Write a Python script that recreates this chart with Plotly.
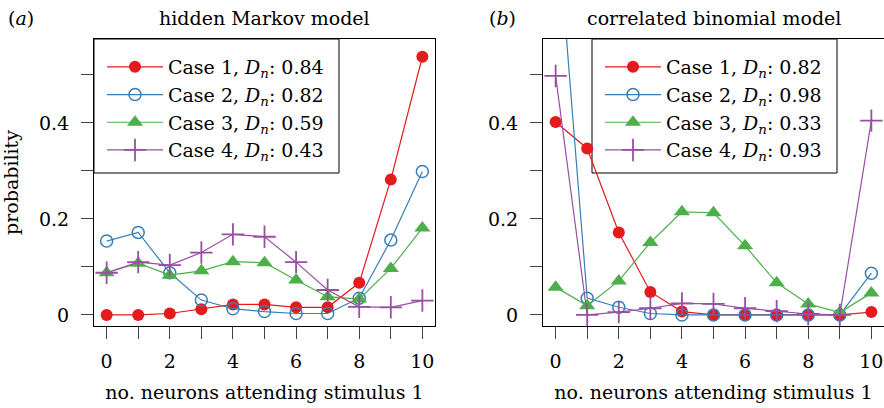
import plotly.graph_objects as go

W, H = 884, 408

neurons = list(range(11))

# (a) hidden Markov model
hmm_case1 = [0.000, 0.000, 0.003, 0.012, 0.022, 0.022, 0.016, 0.016, 0.067, 0.282, 0.538]
hmm_case2 = [0.154, 0.172, 0.088, 0.031, 0.013, 0.007, 0.003, 0.003, 0.035, 0.156, 0.299]
hmm_case3 = [0.088, 0.108, 0.083, 0.092, 0.111, 0.109, 0.073, 0.038, 0.033, 0.097, 0.181]
hmm_case4 = [0.088, 0.110, 0.104, 0.130, 0.168, 0.163, 0.110, 0.052, 0.017, 0.016, 0.030]
hmm_names = ["Case 1, <i>D<sub>n</sub></i>: 0.84", "Case 2, <i>D<sub>n</sub></i>: 0.82",
             "Case 3, <i>D<sub>n</sub></i>: 0.59", "Case 4, <i>D<sub>n</sub></i>: 0.43"]

# (b) correlated binomial model
cbm_case1 = [0.402, 0.347, 0.172, 0.048, 0.007, 0.000, 0.000, 0.000, 0.000, 0.000, 0.006]
cbm_case2 = [0.860, 0.035, 0.016, 0.003, 0.000, 0.000, 0.000, 0.000, 0.000, 0.000, 0.087]
cbm_case3 = [0.058, 0.019, 0.071, 0.151, 0.215, 0.213, 0.144, 0.067, 0.023, 0.005, 0.046]
cbm_case4 = [0.498, 0.000, 0.006, 0.014, 0.024, 0.023, 0.014, 0.008, 0.002, 0.000, 0.405]
cbm_names = ["Case 1, <i>D<sub>n</sub></i>: 0.82", "Case 2, <i>D<sub>n</sub></i>: 0.98",
             "Case 3, <i>D<sub>n</sub></i>: 0.33", "Case 4, <i>D<sub>n</sub></i>: 0.93"]

x_tickvals = [0, 2, 4, 6, 8, 10]
x_minorvals = [1, 3, 5, 7, 9]
y_tickvals = [0, 0.2, 0.4]
y_ticktext = ["0", "0.2", "0.4"]
y_minorvals = [0.1, 0.3, 0.5]

colors = ["#E41A1C", "#377EB8", "#4DAF4A", "#984EA3"]
symbols = ["circle", "circle-open", "triangle-up", "cross-thin-open"]
msizes = [12, 12, 14, 16]
mlw = [0, 1.5, 0, 1.8]

FONT = "DejaVu Serif"
FS = 19

fig = go.Figure()

def add_panel(series, names, xa, ya, legend, tag):
    for i, (ys, nm) in enumerate(zip(series, names)):
        fig.add_trace(go.Scatter(
            x=neurons, y=ys, mode="lines+markers", name=nm,
            xaxis=xa, yaxis=ya, legend=legend, legendgroup=f"{tag}{i}",
            line=dict(color=colors[i], width=1.2),
            marker=dict(symbol=symbols[i], size=msizes[i], color=colors[i],
                        line=dict(color=colors[i], width=mlw[i])),
        ))

add_panel([hmm_case1, hmm_case2, hmm_case3, hmm_case4], hmm_names, "x", "y", "legend", "a")
add_panel([cbm_case1, cbm_case2, cbm_case3, cbm_case4], cbm_names, "x2", "y2", "legend2", "b")

def px_x(p):
    return p / W

def px_y(p):
    return 1 - p / H

box_top, box_bot = 39, 326
axis_common = dict(
    showline=True, linecolor="black", linewidth=1, mirror=True,
    ticks="outside", ticklen=12, tickcolor="#444", tickwidth=1,
    showgrid=False, zeroline=False,
    tickfont=dict(family=FONT, size=FS, color="black"),
)
xaxis_common = dict(axis_common, range=[-0.4, 10.4], tickvals=x_tickvals,
                    ticklabelstandoff=6,
                    minor=dict(tickvals=x_minorvals, ticks="outside", ticklen=12,
                               tickcolor="#444", tickwidth=1, showgrid=False),
                    title=dict(text="no. neurons attending stimulus 1",
                               font=dict(family=FONT, size=FS, color="black"), standoff=14))
yaxis_common = dict(axis_common, range=[-0.023, 0.575], tickvals=y_tickvals,
                    ticktext=y_ticktext, ticklabelstandoff=8,
                    minor=dict(tickvals=y_minorvals, ticks="outside", ticklen=12,
                               tickcolor="#444", tickwidth=1, showgrid=False))

legend_common = dict(xanchor="left", yanchor="top", bgcolor="rgba(0,0,0,0)", borderwidth=0,
                     font=dict(family=FONT, size=FS, color="black"), itemwidth=56,
                     tracegroupgap=0)

fig.update_layout(
    width=W, height=H,
    margin=dict(l=0, r=0, t=0, b=0),
    paper_bgcolor="white", plot_bgcolor="white",
    font=dict(family=FONT, size=FS, color="black"),
    xaxis=dict(xaxis_common, domain=[px_x(94), px_x(435)], anchor="y"),
    yaxis=dict(yaxis_common, domain=[px_y(box_bot), px_y(box_top)], anchor="x",
               title=dict(text="probability", font=dict(family=FONT, size=FS, color="black"),
                          standoff=20)),
    xaxis2=dict(xaxis_common, domain=[px_x(543), 1.0], anchor="y2"),
    yaxis2=dict(yaxis_common, domain=[px_y(box_bot), px_y(box_top)], anchor="x2"),
    legend=dict(legend_common, x=px_x(102), y=px_y(48)),
    legend2=dict(legend_common, x=px_x(600), y=px_y(48)),
    showlegend=True,
)

for x0, x1 in [(94, 339), (592, 837)]:
    fig.add_shape(type="rect", xref="paper", yref="paper",
                  x0=px_x(x0), x1=px_x(x1), y0=px_y(173), y1=px_y(39),
                  line=dict(color="black", width=1), fillcolor="white", layer="below")

for txt, xc in [("hidden Markov model", 264.5), ("correlated binomial model", 713.5)]:
    fig.add_annotation(text=txt, x=px_x(xc), y=px_y(18), xref="paper", yref="paper",
                       showarrow=False, xanchor="center", yanchor="middle",
                       font=dict(family=FONT, size=FS, color="black"))
for txt, xl in [("(<i>a</i>)", 6), ("(<i>b</i>)", 487)]:
    fig.add_annotation(text=txt, x=px_x(xl), y=px_y(18), xref="paper", yref="paper",
                       showarrow=False, xanchor="left", yanchor="middle",
                       font=dict(family=FONT, size=FS, color="black"))

fig.write_html("out.html")
